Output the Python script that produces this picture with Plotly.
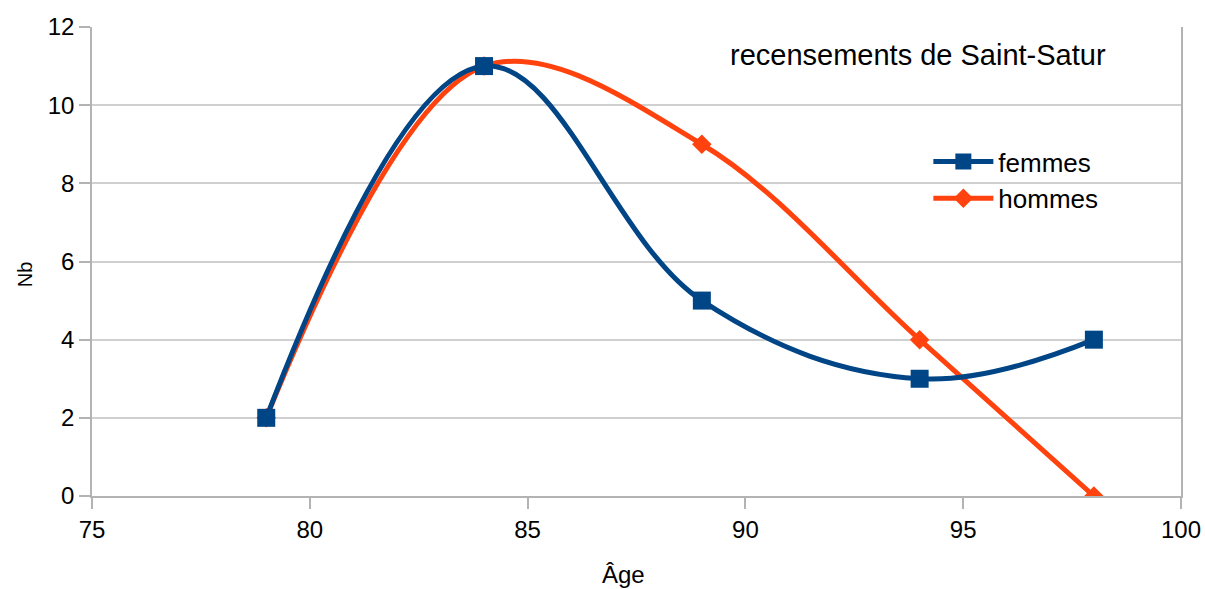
import plotly.graph_objects as go

ages_f = [79, 84, 89, 94, 98]
femmes = [2, 11, 5, 3, 4]
ages_h = [79, 84, 89, 94, 98]
hommes = [2, 11, 9, 4, 0]

x_ticks = [75, 80, 85, 90, 95, 100]
y_ticks = [0, 2, 4, 6, 8, 10, 12]

FONT = "Liberation Sans, Arial, sans-serif"
BLUE = "#004586"
ORANGE = "#ff420e"

fig = go.Figure()
fig.add_trace(go.Scatter(
    x=ages_h, y=hommes, name="hommes", mode="lines+markers",
    line=dict(color=ORANGE, width=5, shape="spline", smoothing=1.0),
    marker=dict(symbol="diamond", size=15, color=ORANGE),
))
fig.add_trace(go.Scatter(
    x=ages_f, y=femmes, name="femmes", mode="lines+markers",
    line=dict(color=BLUE, width=5, shape="spline", smoothing=1.1),
    marker=dict(symbol="square", size=18, color=BLUE),
))

fig.update_layout(
    width=1205, height=589,
    margin=dict(l=92, r=24, t=27, b=93, autoexpand=False),
    paper_bgcolor="white", plot_bgcolor="white",
    font=dict(family=FONT, size=24, color="#000000"),
    showlegend=True,
    legend=dict(
        x=0.768, y=0.763, xanchor="left", yanchor="top",
        traceorder="reversed",
        font=dict(family=FONT, size=26, color="#000000"),
        itemwidth=60, tracegroupgap=0, bgcolor="rgba(0,0,0,0)",
    ),
    annotations=[
        dict(
            text="recensements de Saint-Satur", xref="paper", yref="paper",
            x=0.933, y=0.94, xanchor="right", yanchor="middle", showarrow=False,
            font=dict(family=FONT, size=29, color="#000000"),
        ),
        dict(
            text="Âge", xref="paper", yref="paper",
            x=0.4885, y=-0.168, xanchor="center", yanchor="middle", showarrow=False,
            font=dict(family=FONT, size=24, color="#000000"),
        ),
        dict(
            text="Nb", xref="paper", yref="paper", textangle=-90,
            x=-0.0615, y=0.473, xanchor="center", yanchor="middle", showarrow=False,
            font=dict(family=FONT, size=20, color="#000000"),
        ),
    ],
)
fig.update_xaxes(
    range=[75, 100], tickvals=x_ticks, ticktext=[str(v) for v in x_ticks],
    showgrid=False, zeroline=False, automargin=False, ticklabeloverflow="allow",
    showline=True, linecolor="#b3b3b3", linewidth=1.5,
    ticks="outside", ticklen=11, tickcolor="#b3b3b3", tickwidth=1.5,
    tickfont=dict(family=FONT, size=24),
)
fig.update_yaxes(
    range=[0, 12], tickvals=y_ticks, ticktext=[str(v) for v in y_ticks],
    showgrid=True, gridcolor="#d0d0d0", gridwidth=1.5, zeroline=False,
    automargin=False,
    showline=True, linecolor="#b3b3b3", linewidth=1.5, mirror=True,
    ticks="outside", ticklen=11, tickcolor="#b3b3b3", tickwidth=1.5,
    tickfont=dict(family=FONT, size=24),
)

fig.write_html("out.html", config={"displayModeBar": False},
               post_script="document.body.style.margin='0';")
